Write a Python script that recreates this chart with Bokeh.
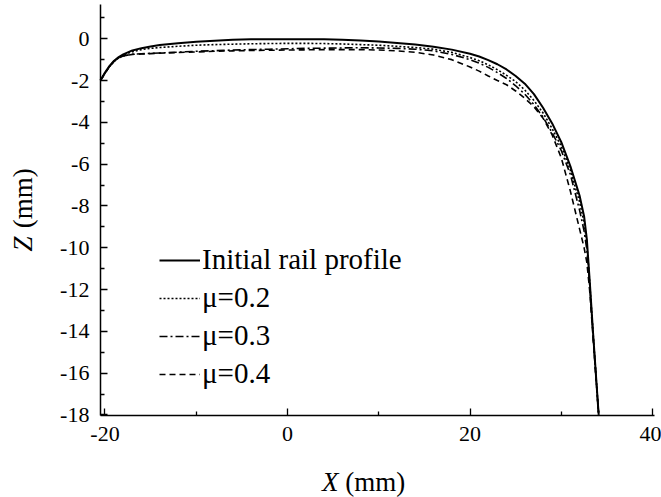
import numpy as np
from bokeh.plotting import figure
from bokeh.models import (Range1d, FixedTicker, Legend, LegendItem, Label,
                          PrintfTickFormatter)
from bokeh.embed import file_html
from bokeh.resources import INLINE

# ---- data ----
X = [-20.5, -20, -19.5, -19, -18.5, -18, -17, -16, -15, -14, -12, -10, -8, -6, -4, -2,
     0, 2, 4, 6, 8, 10, 12, 14, 16, 18, 20, 21, 22, 23, 24, 25, 26, 27, 28, 29, 30, 31,
     32, 32.5, 32.8, 33.1, 33.5, 34.0, 34.1]

Z_initial = [-2.0, -1.62, -1.3, -1.05, -0.88, -0.75, -0.56, -0.45, -0.37, -0.3, -0.21, -0.14,
             -0.09, -0.05, -0.03, -0.02, -0.02, -0.02, -0.03, -0.05, -0.08, -0.13, -0.2, -0.28,
             -0.38, -0.52, -0.72, -0.85, -1.02, -1.22, -1.47, -1.78, -2.15, -2.65, -3.3, -4.05,
             -4.95, -6.1, -7.5, -8.5, -9.6, -11.5, -14.2, -17.4, -18.0]

Z_mu02 = [-2.0, -1.65, -1.33, -1.08, -0.9, -0.78, -0.62, -0.52, -0.46, -0.42, -0.36, -0.31,
          -0.28, -0.26, -0.24, -0.23, -0.22, -0.22, -0.23, -0.25, -0.28, -0.31, -0.36, -0.42,
          -0.5, -0.65, -0.9, -1.05, -1.25, -1.48, -1.75, -2.05, -2.45, -2.95, -3.55, -4.3,
          -5.15, -6.3, -7.8, -8.8, -9.8, -11.6, -14.2, -17.4, -18.0]

Z_mu03 = [-2.0, -1.65, -1.33, -1.08, -0.92, -0.82, -0.74, -0.72, -0.7, -0.68, -0.64, -0.6,
          -0.57, -0.54, -0.52, -0.5, -0.48, -0.46, -0.45, -0.44, -0.43, -0.44, -0.46, -0.5,
          -0.58, -0.75, -1.0, -1.17, -1.37, -1.62, -1.9, -2.25, -2.65, -3.15, -3.75, -4.5,
          -5.35, -6.5, -8.2, -9.2, -10.1, -11.7, -14.3, -17.4, -18.0]

Z_mu04 = [-2.0, -1.65, -1.33, -1.08, -0.92, -0.82, -0.75, -0.73, -0.71, -0.69, -0.66, -0.63,
          -0.6, -0.58, -0.56, -0.55, -0.54, -0.53, -0.52, -0.52, -0.52, -0.54, -0.58, -0.65,
          -0.78, -1.0, -1.35, -1.55, -1.78, -2.0, -2.2, -2.5, -2.85, -3.25, -3.8, -4.6,
          -5.7, -7.3, -9.1, -10.0, -10.7, -12.0, -14.4, -17.4, -18.0]

labels = ["Initial rail profile", "\u03bc=0.2", "\u03bc=0.3", "\u03bc=0.4"]
x_ticks = [-20, 0, 20, 40]
x_minor = [-10, 10, 30]
y_ticks = [0, -2, -4, -6, -8, -10, -12, -14, -16, -18]
y_minor = [1, -1, -3, -5, -7, -9, -11, -13, -15, -17]

FONT = "Liberation Serif"

# frame fills the canvas; axes are library axes pinned at the data-area edges
p = figure(width=661, height=497, output_backend="svg", toolbar_location=None,
           x_range=Range1d(-31.45, 40.98), y_range=Range1d(-21.95, 1.83),
           min_border=0)
p.outline_line_color = None
p.grid.visible = False
p.background_fill_color = "white"
p.border_fill_color = "white"

X_LO, X_HI = -20.5, 40.2
Y_LO, Y_HI = -18.02, 1.65

xa, ya = p.xaxis[0], p.yaxis[0]
xa.fixed_location = Y_LO
ya.fixed_location = X_LO
xa.bounds = (X_LO, X_HI)
ya.bounds = (Y_LO, Y_HI)

for ax in (xa, ya):
    ax.axis_line_width = 1.5
    ax.axis_line_color = "black"
    ax.major_tick_in = 7
    ax.major_tick_out = 0
    ax.minor_tick_in = 4
    ax.minor_tick_out = 0
    ax.major_tick_line_width = 1.3
    ax.minor_tick_line_width = 1.3
    ax.major_label_text_font = FONT
    ax.major_label_text_font_size = "22px"
    ax.major_label_text_color = "black"
    ax.formatter = PrintfTickFormatter(format="%d")

xa.ticker = FixedTicker(ticks=x_ticks, minor_ticks=x_minor)
ya.ticker = FixedTicker(ticks=y_ticks, minor_ticks=y_minor)
xa.major_label_standoff = 12
ya.major_label_standoff = 11

r0 = p.line(X, Z_initial, line_color="black", line_width=2)
r1 = p.line(X, Z_mu02, line_color="black", line_width=1.6, line_dash="2 2")
r2 = p.line(X, Z_mu03, line_color="black", line_width=1.6, line_dash="8 3 2 3")
r3 = p.line(X, Z_mu04, line_color="black", line_width=1.6, line_dash="6 4")

legend = Legend(items=[LegendItem(label=l, renderers=[r]) for l, r in zip(labels, [r0, r1, r2, r3])],
                location=(159, 107), padding=0, margin=0, spacing=5,
                glyph_width=41, glyph_height=30, label_height=30, label_standoff=2,
                label_text_font=FONT, label_text_font_size="29px", label_text_color="black",
                border_line_color=None, background_fill_alpha=0)
p.add_layout(legend, "center")

# axis titles (italic variable, upright unit)
def title_piece(x, y, text, italic=False, angle=0.0):
    return Label(x=x, y=y, x_units="screen", y_units="screen", text=text,
                 text_font=FONT, text_font_size="27px", text_color="black",
                 text_font_style="italic" if italic else "normal",
                 text_baseline="middle", text_align="left", angle=angle)

p.add_layout(title_piece(321.5, 16, "X", italic=True))
p.add_layout(title_piece(344.75, 16, "(mm)"))
p.add_layout(title_piece(22, 246, "Z", italic=True, angle=np.pi / 2))
p.add_layout(title_piece(22, 269.2, "(mm)", angle=np.pi / 2))

open("out.html", "w").write(file_html(p, INLINE))
